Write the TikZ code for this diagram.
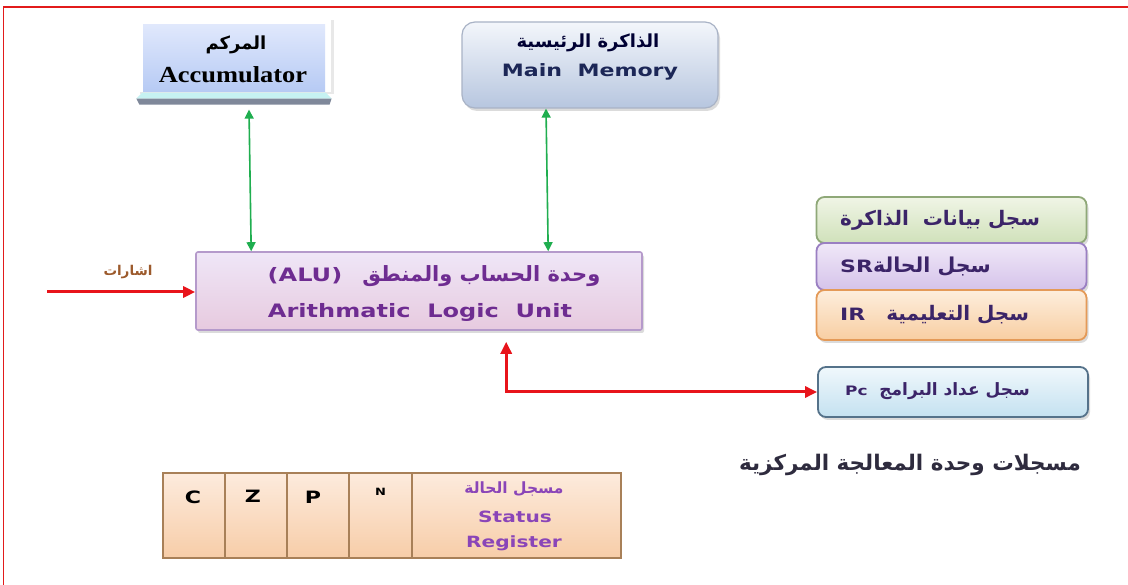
\documentclass[tikz,border=0pt]{standalone}
\usepackage{fontspec}
\usetikzlibrary{arrows.meta,shadows,calc}
\TeXXeTstate=1
\newfontfamily\arsans[Script=Arabic]{DejaVu Sans}
\newfontfamily\lasans[FakeStretch=1.3]{DejaVu Sans}
\newfontfamily\laserif[FakeStretch=1.15]{Liberation Serif}

\definecolor{framered}{HTML}{E21B1B}
\definecolor{linkred}{HTML}{E8141B}
\definecolor{linkgreen}{HTML}{1FAE4F}
\definecolor{alutext}{HTML}{6E2C91}
\definecolor{regtext}{HTML}{3B2468}
\definecolor{memtext}{HTML}{1C2757}
\definecolor{sigtext}{HTML}{9C5A2C}
\definecolor{srtext}{HTML}{8A45B8}
\definecolor{titletext}{HTML}{2E2B3E}
\definecolor{acctop}{HTML}{E0E8FC}
\definecolor{accbot}{HTML}{B6CAF4}
\definecolor{accrim}{HTML}{C6F2F2}
\definecolor{accfoot}{HTML}{7F889A}
\definecolor{memtop}{HTML}{F3F6FB}
\definecolor{membot}{HTML}{B7C6DF}
\definecolor{memrim}{HTML}{A9B3C6}
\definecolor{alutop}{HTML}{EFE6F7}
\definecolor{alubot}{HTML}{E7CADF}
\definecolor{alurim}{HTML}{B59ACB}
\definecolor{grtop}{HTML}{F0F5E6}
\definecolor{grbot}{HTML}{D0E1BA}
\definecolor{grrim}{HTML}{8FA878}
\definecolor{vitop}{HTML}{F0E8F8}
\definecolor{vibot}{HTML}{D5C3EA}
\definecolor{virim}{HTML}{9A7FC2}
\definecolor{ortop}{HTML}{FDEEDD}
\definecolor{orbot}{HTML}{F8CEA2}
\definecolor{orrim}{HTML}{E49A58}
\definecolor{pctop}{HTML}{F0F8FC}
\definecolor{pcbot}{HTML}{C4E1F0}
\definecolor{pcrim}{HTML}{55728A}
\definecolor{celltop}{HTML}{FDEBDD}
\definecolor{cellbot}{HTML}{F7CDA8}
\definecolor{cellrim}{HTML}{A88058}

\tikzset{
  panel/.style={inner sep=0pt, line width=1.2pt},
  shade/.style={drop shadow={opacity=0.28, shadow xshift=2pt, shadow yshift=-3pt}},
  accbox/.style={panel, top color=acctop, bottom color=accbot, minimum width=182pt, minimum height=67pt},
  membox/.style={panel, shade, draw=memrim, rounded corners=13pt,
    top color=memtop, bottom color=membot, minimum width=256pt, minimum height=86pt},
  alubox/.style={panel, shade, draw=alurim, line width=1.6pt, rounded corners=2pt,
    top color=alutop, bottom color=alubot, minimum width=446pt, minimum height=78pt},
  regbox/.style={panel, shade, line width=1.8pt, draw=#1rim, rounded corners=8pt,
    top color=#1top, bottom color=#1bot, minimum width=270pt},
  cell/.style={panel, draw=cellrim, top color=celltop, bottom color=cellbot, minimum height=85pt},
  garrow/.style={linkgreen, line width=1.6pt, {Triangle[length=9pt,width=9pt]}-{Triangle[length=9pt,width=9pt]}},
  rline/.style={linkred, line width=3pt},
  rarrow/.style={linkred, line width=3pt, -{Triangle[length=12pt,width=11pt]}},
  rboth/.style={linkred, line width=3pt, {Triangle[length=12pt,width=11pt]}-{Triangle[length=12pt,width=11pt]}},
  txt/.style={inner sep=0pt},
}

\begin{document}
\begin{tikzpicture}[x=1pt,y=-1pt]
\useasboundingbox (0,0) rectangle (1128,585);
\fill[white] (0,0) rectangle (1128,585);

% page frame (top and left edges)
\draw[framered, line width=1.4pt] (1128,7) -- (3.5,7) -- (3.5,585);

% ---- Accumulator ----
\fill[white, drop shadow={opacity=0.18, shadow xshift=3pt, shadow yshift=-2pt}] (137,18) rectangle (331,92);
\node[accbox] (acc) at (234,58.5) {};
\fill[accrim] (acc.south west) -- (acc.south east) -- ($(acc.south east)+(6,6)$) -- ($(acc.south west)+(-6,6)$) -- cycle;
\fill[accfoot] ($(acc.south west)+(-6,6)$) -- ($(acc.south east)+(6,6)$) -- ($(acc.south east)+(4,12)$) -- ($(acc.south west)+(-3,12)$) -- cycle;
\node[txt, font=\arsans\bfseries\fontsize{18}{21}\selectfont] (accar) at (236,45) {\beginR المركم\endR};
\node[txt, font=\laserif\bfseries\fontsize{23}{26}\selectfont] (accen) at (233,75) {Accumulator};

% ---- Main memory ----
\node[membox] (mem) at (590,65) {};
\node[txt, text=black!80!blue, font=\arsans\bfseries\fontsize{18}{21}\selectfont] (memar) at (588,43) {\beginR الذاكرة الرئيسية\endR};
\node[txt, text=memtext, font=\lasans\bfseries\fontsize{17}{20}\selectfont] (memen) at (590,72) {Main\ \ Memory};

% ---- ALU ----
\node[alubox] (alu) at (419,291) {};
\node[txt, text=alutext, font=\arsans\bfseries\fontsize{21}{24}\selectfont] (aluar) at (434,276)
  {\beginR وحدة الحساب والمنطق\hspace{20pt}\beginL{\lasans\fontsize{18.5}{22}\selectfont(ALU)}\endL\endR};
\node[txt, text=alutext, font=\lasans\bfseries\fontsize{18.5}{22}\selectfont] (aluen) at (420,312)
  {Arithmatic\ \ Logic\ \ Unit};

% memory / accumulator links
\draw[garrow] ($(acc.south)+(15,17)$) -- ($(alu.north west)+(56,0)$);
\draw[garrow] ($(mem.south)+(-44,0)$) -- ($(alu.north west)+(353,0)$);

% control signals
\coordinate (sig) at (47,292);
\draw[rarrow] (sig) -- (sig -| alu.west);
\node[txt, text=sigtext, font=\arsans\bfseries\fontsize{13.5}{16}\selectfont] (siglbl) at (128,272) {\beginR اشارات\endR};

% ---- Register stack ----
\node[regbox=gr, minimum height=46pt] (mdr) at (951.5,220) {};
\node[regbox=vi, minimum height=47pt] (srr) at (951.5,266.5) {};
\node[regbox=or, minimum height=50pt] (irr) at (951.5,315) {};
\node[txt, anchor=west, text=regtext, font=\arsans\bfseries\fontsize{20}{23}\selectfont] (mdrtxt) at (840,220) {\beginR سجل بيانات\ \ الذاكرة\endR};
\node[txt, anchor=west, text=regtext, font=\arsans\bfseries\fontsize{20.5}{23}\selectfont] (srrtxt) at (840,267) {\beginR سجل الحالة\beginL{\lasans\fontsize{17}{20}\selectfont SR}\endL\endR};
\node[txt, anchor=west, text=regtext, font=\arsans\bfseries\fontsize{20}{23}\selectfont] (irrtxt) at (840,315) {\beginR سجل التعليمية\ \ \ \beginL{\lasans\fontsize{17}{20}\selectfont IR}\endL\endR};

% program counter
\node[regbox=pc, minimum height=50pt] (pc) at (953,392) {};
\node[txt, anchor=west, text=regtext, font=\arsans\bfseries\fontsize{17}{20}\selectfont] (pctxt) at (845,391) {\beginR سجل عداد البرامج\ \ \beginL{\lasans\fontsize{13}{16}\selectfont Pc}\endL\endR};
\draw[rboth] ($(alu.south west)+(311,11)$) |- (pc.west);

% caption
\node[txt, text=titletext, font=\arsans\bfseries\fontsize{21.5}{25}\selectfont] (title) at (910,465)
  {\beginR مسجلات وحدة المعالجة المركزية\endR};

% ---- Status register ----
\node[cell, minimum width=62pt] (fc) at (194,515.5) {};
\node[cell, minimum width=62pt] (fz) at (256,515.5) {};
\node[cell, minimum width=62pt] (fp) at (318,515.5) {};
\node[cell, minimum width=63pt] (fn) at (380.5,515.5) {};
\node[cell, minimum width=209pt] (sr) at (516.5,515.5) {};
\node[txt, font=\lasans\bfseries\fontsize{17}{20}\selectfont] (lc) at ($(fc.north)+(-1,25)$) {C};
\node[txt, font=\lasans\bfseries\fontsize{17}{20}\selectfont] (lz) at ($(fz.north)+(-3,24)$) {Z};
\node[txt, font=\lasans\bfseries\fontsize{17}{20}\selectfont] (lp) at ($(fp.north)+(-5,25)$) {P};
\node[txt, font=\lasans\bfseries\fontsize{10}{12}\selectfont] (ln) at ($(fn.north)+(0,19)$) {N};
\node[txt, text=srtext, font=\arsans\bfseries\fontsize{15.5}{18}\selectfont] (srar) at (514,489) {\beginR مسجل الحالة\endR};
\node[txt, text=srtext, font=\lasans\bfseries\fontsize{15.5}{18}\selectfont] (sren1) at (515,517) {Status};
\node[txt, text=srtext, font=\lasans\bfseries\fontsize{15.5}{18}\selectfont] (sren2) at (514,543) {Register};

% ALU to status register
\draw[rline] ($(alu.south west)+(189,0)$) -- ($(alu.south west)+(189,0)$ |- fn.north);
\draw[rline] ($(alu.south west)+(257,0)$) -- ($(alu.south west)+(257,0)$ |- sr.north);
\end{tikzpicture}
\end{document}
